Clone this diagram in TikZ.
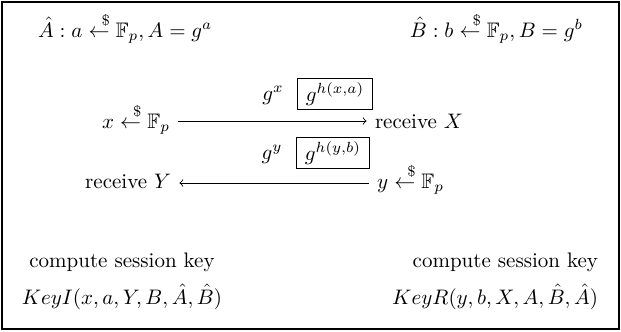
\documentclass[tikz,border=0pt]{standalone}
\usepackage{amsmath,amssymb}
\usetikzlibrary{positioning}

\newcommand{\rsel}{\mathrel{\overset{\mkern14mu\$}{\leftarrow}}}
\tikzset{txt/.style={inner sep=0pt, outer sep=0pt},
         msg/.style={draw, inner xsep=4pt, inner ysep=2pt, line width=0.5pt}}

\begin{document}
\begin{tikzpicture}[x=0.476pt, y=-0.476pt, >=to]
  \useasboundingbox (0,0) rectangle (621,331);
  \draw[line width=0.6pt] (2,2) rectangle (619,329);
  % parties and long-term keys
  \node[txt, anchor=base west] (alice) at (38,37) {$\hat{A}: a \rsel \mathbb{F}_p, A = g^a$};
  \node[txt, anchor=base east] (bob) at (583,37) {$\hat{B}: b \rsel \mathbb{F}_p, B = g^b$};
  % first message
  \node[txt, anchor=base east] (xsel) at (170,128) {$x \rsel \mathbb{F}_p$};
  \node[txt, anchor=base west] (recX) at (375,128) {receive $X$};
  \coordinate (m1) at (0,121);
  \draw[->] ([xshift=4pt]xsel.east |- m1) -- ([xshift=-4pt]recX.west |- m1);
  \node[txt, anchor=base] (gx) at (273,100) {$g^x$};
  \node[msg] (hx) at (335,94) {$g^{h(x,a)}$};
  % second message
  \node[txt, anchor=base east] (recY) at (171,188) {receive $Y$};
  \node[txt, anchor=base west] (ysel) at (377,188) {$y \rsel \mathbb{F}_p$};
  \coordinate (m2) at (0,183);
  \draw[->] ([xshift=-4pt]ysel.west |- m2) -- ([xshift=4pt]recY.east |- m2);
  \node[txt, anchor=base] (gy) at (272,159) {$g^y$};
  \node[msg] (hy) at (333,153) {$g^{h(y,b)}$};
  % session keys
  \node[txt, anchor=base] (cI) at (122,267) {compute session key};
  \node[txt, anchor=base] (kI) at (122,304) {$KeyI(x,a,Y,B,\hat{A},\hat{B})$};
  \node[txt, anchor=base east] (cR) at (598,267) {compute session key};
  \node[txt, anchor=base east] (kR) at (598,304) {$KeyR(y,b,X,A,\hat{B},\hat{A})$};
\end{tikzpicture}
\end{document}
